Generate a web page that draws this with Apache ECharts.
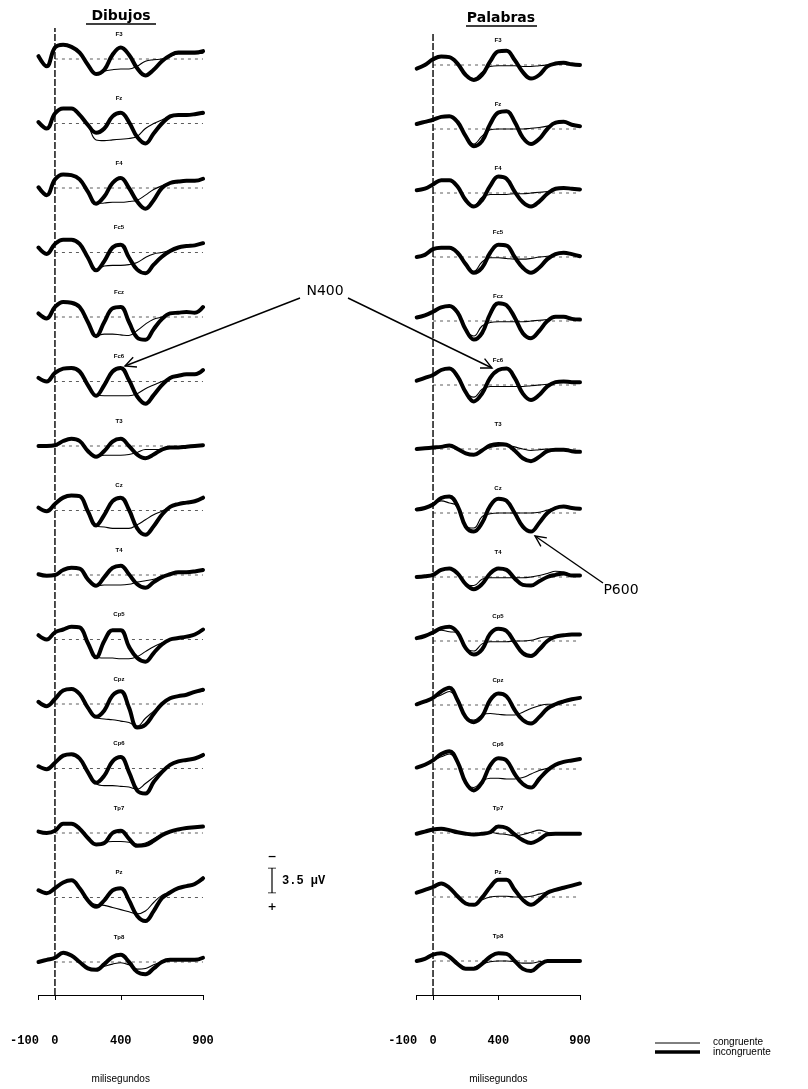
<!DOCTYPE html>
<html>
<head>
<meta charset="utf-8">
<script src="https://cdn.jsdelivr.net/npm/echarts@6/dist/echarts.min.js"></script>
<style>
  html, body { margin: 0; padding: 0; background: #fff; }
  #chart { width: 808px; height: 1089px; }
</style>
</head>
<body>
<div id="chart"></div>
<script>
// Sample times (ms) of every waveform
const times = [-100, -50, 0, 50, 100, 150, 200, 250, 300, 350, 400, 450, 500, 550, 600, 650, 700, 750, 800, 850, 900];

// Electrode of each row, top to bottom
const electrodes = ['F3', 'Fz', 'F4', 'Fc5', 'Fcz', 'Fc6', 'T3', 'Cz', 'T4', 'Cp5', 'Cpz', 'Cp6', 'Tp7', 'Pz', 'Tp8'];

// Amplitudes in µV (negative plotted upward), one row per electrode
const dibujosIncongruente = [
  [-0.4, 1.0, -1.6, -2.0, -1.7, -0.9, 0.8, 2.1, 1.5, -0.6, -1.6, -0.6, 1.3, 2.3, 1.5, 0.3, -0.5, -0.9, -0.9, -0.9, -1.1],
  [-0.2, 0.7, -1.4, -2.1, -2.1, -1.2, 0.2, 1.3, 0.7, -1.0, -1.5, -0.2, 1.9, 2.8, 1.4, 0.0, -1.0, -1.2, -1.2, -1.3, -1.5],
  [-0.1, 1.0, -1.2, -1.9, -1.8, -1.2, 0.5, 2.2, 1.2, -0.7, -1.4, 0.0, 1.9, 2.9, 1.7, 0.0, -0.7, -0.9, -1.0, -1.0, -1.3],
  [-0.7, 0.2, -1.2, -1.8, -1.8, -1.2, 0.7, 2.5, 1.2, -0.7, -1.1, 0.7, 2.4, 2.9, 1.7, 0.6, -0.2, -0.7, -0.9, -1.0, -1.3],
  [-0.5, 0.2, -1.4, -2.1, -2.0, -1.4, 0.7, 2.7, 0.7, -1.2, -1.4, 0.7, 2.9, 3.2, 1.7, 0.3, -0.5, -0.6, -0.7, -0.6, -1.4],
  [-0.5, 0.0, -1.2, -1.8, -1.9, -1.4, 0.5, 2.0, 0.5, -1.4, -1.9, -0.2, 2.1, 3.1, 1.9, 0.5, -0.5, -0.8, -1.0, -1.0, -1.6],
  [0.0, 0.0, -0.1, -0.7, -1.0, -0.7, 0.7, 1.5, 0.7, -0.6, -1.0, 0.0, 1.2, 1.7, 1.2, 0.5, 0.2, 0.2, 0.1, 0.0, -0.1],
  [-0.4, 0.1, -0.9, -1.8, -2.1, -2.0, 0.1, 2.1, 0.6, -1.3, -1.8, -0.1, 2.5, 3.4, 2.2, 0.6, -0.5, -0.9, -1.1, -1.3, -1.8],
  [-0.1, 0.1, 0.0, -0.7, -1.0, -0.9, 0.6, 1.5, 0.3, -1.0, -1.3, -0.1, 1.3, 1.8, 1.0, 0.3, -0.1, -0.4, -0.4, -0.5, -0.7],
  [-0.6, 0.0, -1.0, -1.4, -1.8, -1.7, 0.5, 2.5, 0.2, -1.3, -1.3, 1.0, 2.6, 3.1, 1.9, 0.7, 0.0, -0.2, -0.4, -0.7, -1.4],
  [-0.3, 0.3, -0.7, -1.9, -2.1, -1.4, 0.5, 1.8, 0.9, -1.2, -1.8, 0.5, 3.3, 2.9, 1.4, 0.0, -0.8, -1.1, -1.3, -1.7, -2.0],
  [-0.3, 0.1, -0.8, -1.8, -2.0, -1.4, 0.5, 2.0, 1.0, -1.0, -1.6, 0.5, 3.1, 3.5, 1.9, 0.5, -0.5, -1.0, -1.2, -1.4, -1.9],
  [-0.2, 0.0, -0.3, -1.3, -1.3, -0.6, 0.7, 1.6, 1.4, 0.0, -0.3, 0.8, 1.8, 1.7, 1.1, 0.3, -0.2, -0.5, -0.7, -0.8, -0.9],
  [-1.0, -0.6, -1.3, -2.1, -2.4, -1.3, 0.4, 1.3, 0.4, -1.0, -1.3, 0.4, 2.6, 3.3, 1.9, 0.1, -0.7, -1.3, -1.6, -1.9, -2.7],
  [0.0, -0.3, -0.6, -1.3, -0.9, 0.0, 0.9, 1.1, 0.3, -0.7, -1.0, 0.0, 1.4, 1.7, 0.9, 0.0, -0.3, -0.3, -0.3, -0.3, -0.6]
];

const dibujosCongruente = [
  [-0.4, 1.0, -1.6, -2.0, -1.7, -0.9, 0.8, 2.2, 1.7, 1.5, 1.4, 1.4, 1.0, 0.3, 0.1, 0.0, -0.4, -0.7, -0.7, -0.7, -0.8],
  [-0.2, 0.7, -1.4, -2.1, -2.1, -1.2, 0.2, 2.3, 2.4, 2.3, 2.2, 2.1, 1.8, 0.7, 0.0, -0.5, -1.0, -1.1, -1.1, -1.2, -1.3],
  [-0.1, 1.0, -1.2, -1.9, -1.8, -1.2, 0.5, 2.2, 2.1, 2.0, 2.0, 1.9, 1.7, 1.0, 0.2, -0.3, -0.7, -0.9, -1.0, -1.0, -1.2],
  [-0.7, 0.2, -1.2, -1.8, -1.8, -1.2, 0.7, 2.4, 1.9, 1.8, 1.8, 1.7, 1.4, 0.7, 0.2, 0.0, -0.3, -0.7, -0.9, -1.0, -1.2],
  [-0.5, 0.2, -1.4, -2.1, -2.0, -1.4, 0.7, 2.6, 2.4, 2.4, 2.5, 2.6, 1.9, 1.0, 0.3, 0.0, -0.5, -0.6, -0.7, -0.7, -1.2],
  [-0.5, 0.0, -1.2, -1.8, -1.9, -1.4, 0.5, 1.9, 2.0, 2.0, 2.0, 2.0, 1.7, 1.0, 0.5, 0.0, -0.5, -0.8, -1.0, -1.0, -1.4],
  [0.0, 0.0, -0.1, -0.7, -1.0, -0.7, 0.7, 1.4, 1.3, 1.3, 1.3, 1.2, 0.9, 0.5, 0.5, 0.5, 0.2, 0.2, 0.1, 0.0, -0.1],
  [-0.4, 0.1, -0.9, -1.8, -2.1, -2.0, 0.1, 2.2, 2.3, 2.5, 2.5, 2.5, 2.0, 1.3, 0.6, 0.1, -0.5, -0.9, -1.1, -1.3, -1.6],
  [-0.1, 0.1, 0.0, -0.7, -1.0, -0.9, 0.6, 1.5, 1.4, 1.4, 1.4, 1.3, 1.0, 0.8, 0.6, 0.2, -0.1, -0.4, -0.4, -0.5, -0.6],
  [-0.6, 0.0, -1.0, -1.4, -1.8, -1.7, 0.5, 2.5, 2.6, 2.6, 2.7, 2.7, 2.4, 1.7, 1.0, 0.5, 0.0, -0.2, -0.4, -0.7, -1.3],
  [-0.3, 0.3, -0.7, -1.9, -2.1, -1.4, 0.5, 1.9, 2.1, 2.2, 2.4, 2.6, 3.1, 2.0, 1.0, 0.0, -0.7, -1.1, -1.3, -1.6, -1.8],
  [-0.3, 0.1, -0.8, -1.8, -2.0, -1.4, 0.5, 2.1, 2.4, 2.4, 2.5, 2.6, 2.9, 2.1, 1.2, 0.3, -0.5, -1.0, -1.2, -1.4, -1.7],
  [-0.2, 0.0, -0.3, -1.3, -1.3, -0.6, 0.7, 1.6, 1.3, 1.2, 1.2, 1.3, 1.6, 1.4, 0.8, 0.2, -0.2, -0.5, -0.7, -0.8, -0.9],
  [-1.0, -0.6, -1.3, -2.1, -2.4, -1.3, 0.4, 1.0, 1.1, 1.4, 1.7, 2.0, 2.3, 1.9, 0.7, -0.3, -0.7, -1.3, -1.6, -1.9, -2.4],
  [0.0, -0.3, -0.6, -1.3, -0.9, 0.0, 0.9, 0.9, 0.6, 0.3, 0.1, 0.4, 1.0, 0.9, 0.4, 0.0, -0.3, -0.3, -0.3, -0.3, -0.5]
];

const palabrasIncongruente = [
  [0.5, 0.0, -0.8, -1.2, -1.1, -0.2, 1.4, 2.1, 1.4, -0.5, -1.9, -2.0, -0.7, 1.0, 1.9, 1.4, 0.2, -0.2, -0.3, -0.1, 0.0],
  [-0.7, -1.0, -1.3, -1.7, -1.8, -1.0, 1.0, 2.4, 1.7, -0.7, -2.3, -2.5, -1.0, 1.2, 2.1, 1.4, 0.0, -0.9, -1.0, -0.6, -0.4],
  [-0.4, -0.6, -1.2, -1.8, -1.8, -0.9, 1.0, 1.9, 1.0, -1.0, -2.3, -2.0, -0.2, 1.3, 1.9, 1.2, 0.1, -0.6, -0.7, -0.6, -0.5],
  [0.0, -0.3, -1.1, -1.3, -1.3, -0.6, 1.0, 2.2, 1.5, -0.6, -1.7, -1.6, 0.0, 1.5, 2.2, 1.5, 0.3, -0.4, -0.6, -0.4, -0.1],
  [-0.5, -0.8, -1.3, -1.9, -2.1, -1.2, 1.2, 2.6, 1.7, -1.0, -2.5, -2.2, -0.5, 1.7, 2.4, 1.4, 0.0, -0.6, -0.6, -0.3, -0.2],
  [-0.6, -1.0, -1.4, -2.1, -2.3, -1.2, 1.0, 2.3, 1.2, -1.0, -2.1, -2.3, -1.0, 1.2, 2.1, 1.4, 0.2, -0.4, -0.5, -0.4, -0.4],
  [0.0, -0.1, -0.2, -0.3, -0.5, 0.0, 0.6, 0.8, 0.2, -0.5, -0.7, -0.6, 0.2, 1.3, 1.7, 1.1, 0.3, 0.1, 0.1, 0.3, 0.4],
  [-0.5, -0.7, -1.2, -2.1, -2.3, -1.0, 1.9, 2.6, 1.4, -1.0, -2.0, -1.7, 0.0, 1.9, 2.6, 1.4, 0.0, -0.7, -0.9, -0.7, -0.6],
  [0.0, -0.1, -0.3, -1.0, -1.2, -0.5, 1.0, 1.7, 1.0, -0.5, -1.2, -1.0, 0.2, 1.1, 1.2, 0.6, 0.0, -0.3, -0.5, -0.2, -0.2],
  [-0.4, -0.7, -1.2, -1.8, -2.0, -1.2, 1.0, 1.9, 1.2, -1.0, -1.7, -1.4, 0.2, 1.7, 2.1, 1.2, 0.0, -0.6, -0.8, -0.9, -0.9],
  [-0.1, -0.5, -1.0, -1.9, -2.4, -0.7, 1.7, 2.4, 1.6, -0.7, -1.6, -1.2, 0.7, 2.1, 2.6, 1.7, 0.5, -0.1, -0.5, -0.8, -1.0],
  [-0.2, -0.6, -1.2, -2.1, -2.5, -1.0, 1.9, 3.0, 1.9, -0.5, -1.5, -1.2, 0.7, 2.1, 2.6, 1.4, 0.2, -0.6, -1.0, -1.2, -1.4],
  [0.1, -0.2, -0.5, -0.6, -0.4, -0.1, 0.1, 0.2, 0.1, -0.1, -0.9, -0.7, 0.2, 1.0, 1.4, 0.9, 0.2, 0.1, 0.1, 0.1, 0.1],
  [-0.6, -1.0, -1.4, -1.9, -1.3, -0.1, 0.9, 1.1, 0.1, -1.4, -2.4, -2.4, -1.0, 0.4, 1.1, 0.4, -0.6, -1.0, -1.3, -1.6, -1.9],
  [0.0, -0.3, -0.9, -1.1, -0.6, 0.4, 1.1, 1.1, 0.4, -0.6, -1.1, -1.0, 0.0, 1.1, 1.4, 0.6, 0.0, 0.0, 0.0, 0.0, 0.0]
];

const palabrasCongruente = [
  [0.5, 0.0, -0.8, -1.2, -1.1, -0.2, 1.4, 1.9, 1.0, 0.2, 0.1, 0.1, 0.1, 0.2, 0.2, 0.1, 0.0, -0.1, -0.3, -0.1, 0.0],
  [-0.7, -1.0, -1.3, -1.7, -1.8, -1.0, 1.0, 2.1, 1.0, 0.1, 0.0, 0.0, 0.0, 0.0, -0.1, -0.2, -0.4, -0.7, -1.0, -0.6, -0.4],
  [-0.4, -0.6, -1.2, -1.8, -1.8, -0.9, 1.0, 1.8, 0.6, 0.2, 0.2, 0.2, 0.1, 0.1, 0.0, -0.1, -0.2, -0.5, -0.7, -0.6, -0.5],
  [0.0, -0.3, -1.1, -1.3, -1.3, -0.6, 1.0, 2.0, 0.7, 0.1, 0.1, 0.2, 0.3, 0.3, 0.2, 0.0, -0.1, -0.4, -0.6, -0.4, -0.1],
  [-0.5, -0.8, -1.3, -1.9, -2.1, -1.2, 1.2, 2.1, 0.7, 0.2, 0.1, 0.1, 0.1, 0.1, 0.0, -0.1, -0.2, -0.5, -0.6, -0.3, -0.2],
  [-0.6, -1.0, -1.4, -2.1, -2.3, -1.2, 1.0, 1.7, 0.6, 0.2, 0.2, 0.2, 0.2, 0.2, 0.1, 0.0, -0.1, -0.4, -0.5, -0.4, -0.4],
  [0.0, -0.1, -0.2, -0.3, -0.5, 0.0, 0.6, 0.7, 0.2, -0.2, -0.4, -0.5, -0.3, 0.0, 0.2, 0.1, 0.0, 0.1, 0.1, 0.3, 0.4],
  [-0.5, -0.7, -1.2, -1.7, -1.4, -1.0, 1.9, 2.1, 0.5, 0.1, 0.0, 0.0, 0.0, 0.0, 0.0, -0.1, -0.4, -0.7, -0.9, -0.7, -0.6],
  [0.0, -0.1, -0.3, -1.0, -1.2, -0.5, 1.0, 1.2, 0.3, 0.1, 0.1, 0.1, 0.1, 0.1, 0.0, -0.2, -0.5, -0.8, -0.7, -0.3, -0.2],
  [-0.4, -0.7, -1.2, -1.5, -1.3, -1.2, 1.0, 1.4, 0.4, 0.1, 0.1, 0.1, 0.0, 0.0, -0.1, -0.4, -0.6, -0.6, -0.8, -0.9, -0.9],
  [-0.1, -0.5, -1.0, -1.4, -1.9, -0.7, 1.7, 2.1, 1.4, 1.2, 1.3, 1.4, 1.4, 1.0, 0.5, 0.1, -0.1, -0.1, -0.5, -0.8, -1.0],
  [-0.2, -0.6, -1.2, -1.7, -2.1, -1.0, 1.9, 2.6, 1.7, 1.3, 1.3, 1.4, 1.4, 1.2, 0.7, 0.2, -0.1, -0.6, -1.0, -1.2, -1.4],
  [0.1, -0.2, -0.5, -0.6, -0.4, -0.1, 0.1, 0.2, 0.1, -0.1, 0.1, 0.2, 0.4, 0.2, -0.1, -0.4, -0.1, 0.1, 0.1, 0.1, 0.1],
  [-0.6, -1.0, -1.4, -1.9, -1.3, -0.1, 0.9, 1.0, 0.4, 0.0, -0.1, -0.1, 0.0, 0.0, -0.1, -0.4, -0.7, -1.0, -1.3, -1.6, -1.9],
  [0.0, -0.3, -0.9, -1.1, -0.6, 0.4, 1.1, 0.9, 0.4, 0.1, 0.0, 0.0, 0.1, 0.3, 0.3, 0.1, 0.0, 0.0, 0.0, 0.0, 0.0]
];

// Time axis tick values and the calibration bar
const timeTicks = [-100, 0, 400, 900];
const calibrationMicrovolts = 3.5;

// ---- layout ----
const PX_PER_UV = 7.14;           // vertical scale shared by panels and calibration bar
const RANGE_UV = 4;               // each panel spans -4..+4 µV
const PANEL_H = 2 * RANGE_UV * PX_PER_UV;

const columns = [
  { title: 'Dibujos', left: 38.5, width: 164.5, rowTop: 59, rowStep: 64.5, labelX: 119,
    con: dibujosCongruente, inc: dibujosIncongruente, axisY: 995, lineTop: 28, titleX: 121, titleY: 16,
    underline: [86, 156, 24] },
  { title: 'Palabras', left: 416.7, width: 163.3, rowTop: 65, rowStep: 64, labelX: 498,
    con: palabrasCongruente, inc: palabrasIncongruente, axisY: 997, lineTop: 33, titleX: 501, titleY: 18,
    underline: [466, 537, 26] }
];

const grids = [], xAxes = [], yAxes = [], series = [], graphics = [];
const INK = '#000';

function addGrid(g, x, y) {
  grids.push(g);
  const idx = grids.length - 1;
  xAxes.push(Object.assign({ gridIndex: idx }, x));
  yAxes.push(Object.assign({ gridIndex: idx }, y));
  return idx;
}

columns.forEach(col => {
  electrodes.forEach((el, r) => {
    const base = col.rowTop + col.rowStep * r;
    const gi = addGrid(
      { left: col.left, width: col.width, top: base - PANEL_H / 2, height: PANEL_H },
      { type: 'value', min: -100, max: 900, show: false },
      { type: 'value', min: -RANGE_UV, max: RANGE_UV, inverse: true, show: false }
    );
    // dashed zero line of the panel
    series.push({
      type: 'line', xAxisIndex: gi, yAxisIndex: gi, silent: true, symbol: 'none',
      data: [[0, 0], [900, 0]],
      lineStyle: { color: '#333', width: 0.8, type: [3, 4] }
    });
    series.push({
      name: 'incongruente', type: 'line', xAxisIndex: gi, yAxisIndex: gi, symbol: 'none',
      smooth: 0.4, data: times.map((t, i) => [t, col.inc[r][i]]),
      lineStyle: { color: INK, width: 4, cap: 'round', join: 'round' }
    });
    series.push({
      name: 'congruente', type: 'line', xAxisIndex: gi, yAxisIndex: gi, symbol: 'none',
      smooth: 0.4, data: times.map((t, i) => [t, col.con[r][i]]),
      lineStyle: { color: INK, width: 1.1, cap: 'round', join: 'round' }
    });
    graphics.push({
      type: 'text', x: col.labelX, y: base - 25,
      style: { text: el, fill: INK, font: 'bold 6px "Liberation Sans"', align: 'center', verticalAlign: 'middle' }
    });
  });

  // full-height column frame: stimulus-onset line and time axis
  const ci = addGrid(
    { left: col.left, width: col.width, top: col.lineTop, height: col.axisY - col.lineTop },
    {
      type: 'value', min: -100, max: 900,
      name: 'milisegundos', nameLocation: 'middle', nameGap: 79,
      nameTextStyle: { color: INK, fontFamily: 'Liberation Sans', fontSize: 10 },
      axisLine: { show: true, onZero: false, lineStyle: { color: INK, width: 1 } },
      axisTick: { show: true, customValues: timeTicks, length: 5, lineStyle: { color: INK, width: 1 } },
      axisLabel: {
        customValues: timeTicks, margin: 40, color: INK,
        fontFamily: 'Liberation Mono', fontWeight: 'bold', fontSize: 12,
        formatter: v => (v === -100 ? '{neg|-100}' : String(v)),
        rich: { neg: { fontFamily: 'Liberation Mono', fontWeight: 'bold', fontSize: 12, color: INK, padding: [0, 28, 0, 0] } }
      },
      splitLine: { show: false }
    },
    { type: 'value', min: 0, max: 1, show: false }
  );
  series.push({
    type: 'line', xAxisIndex: ci, yAxisIndex: ci, silent: true, symbol: 'none',
    data: [[0, 0], [0, 1]],
    lineStyle: { color: INK, width: 1.4, type: [7, 2] }
  });

  // column title, underlined
  graphics.push(
    { type: 'text', x: col.titleX, y: col.titleY,
      style: { text: col.title, fill: INK, font: 'bold 14px "DejaVu Sans"', align: 'center', verticalAlign: 'middle' } },
    { type: 'line', shape: { x1: col.underline[0], y1: col.underline[2], x2: col.underline[1], y2: col.underline[2] },
      style: { stroke: INK, lineWidth: 1.3 } }
  );
});

// calibration bar drawn on the same µV scale as the panels
const calTop = 868;
const calIdx = addGrid(
  { left: 264, width: 16, top: calTop, height: calibrationMicrovolts * PX_PER_UV },
  { type: 'value', min: -1, max: 1, show: false },
  { type: 'value', min: 0, max: calibrationMicrovolts, inverse: true, show: false }
);
[[[0, 0], [0, calibrationMicrovolts]],
 [[-0.5, 0], [0.5, 0]],
 [[-0.5, calibrationMicrovolts], [0.5, calibrationMicrovolts]]].forEach(seg => {
  series.push({
    type: 'line', xAxisIndex: calIdx, yAxisIndex: calIdx, silent: true, symbol: 'none',
    data: seg, lineStyle: { color: INK, width: 1.2 }
  });
});

// calibration texts
graphics.push(
  { type: 'text', x: 272, y: 857, style: { text: '\u2212', fill: INK, font: 'bold 11px "DejaVu Sans"', align: 'center', verticalAlign: 'middle' } },
  { type: 'text', x: 272, y: 907, style: { text: '+', fill: INK, font: 'bold 11px "DejaVu Sans"', align: 'center', verticalAlign: 'middle' } },
  { type: 'text', x: 282, y: 881, style: { text: '3.5 \u00b5V', fill: INK, font: 'bold 12px "Liberation Mono"', align: 'left', verticalAlign: 'middle' } }
);

// component annotations
function arrow(x1, y1, x2, y2) {
  const a = Math.atan2(y2 - y1, x2 - x1), L = 12, s = 0.45;
  const p1 = [x2 - L * Math.cos(a - s), y2 - L * Math.sin(a - s)];
  const p2 = [x2 - L * Math.cos(a + s), y2 - L * Math.sin(a + s)];
  return [
    { type: 'line', shape: { x1, y1, x2, y2 }, style: { stroke: INK, lineWidth: 1.4 } },
    { type: 'polyline', shape: { points: [p1, [x2, y2], p2] }, style: { stroke: INK, lineWidth: 1.4, fill: null } }
  ];
}
graphics.push(
  { type: 'text', x: 325, y: 291, style: { text: 'N400', fill: INK, font: '14px "DejaVu Sans"', align: 'center', verticalAlign: 'middle' } },
  { type: 'text', x: 621, y: 590, style: { text: 'P600', fill: INK, font: '14px "DejaVu Sans"', align: 'center', verticalAlign: 'middle' } },
  ...arrow(300, 298, 125, 366),
  ...arrow(348, 298, 492, 368),
  ...arrow(603, 583, 535, 536)
);

// key for the two line weights
graphics.push(
  { type: 'line', shape: { x1: 655, y1: 1043, x2: 700, y2: 1043 }, style: { stroke: INK, lineWidth: 1 } },
  { type: 'line', shape: { x1: 655, y1: 1052, x2: 700, y2: 1052 }, style: { stroke: INK, lineWidth: 3.5 } },
  { type: 'text', x: 713, y: 1042, style: { text: 'congruente', fill: INK, font: '10px "Liberation Sans"', align: 'left', verticalAlign: 'middle' } },
  { type: 'text', x: 713, y: 1052, style: { text: 'incongruente', fill: INK, font: '10px "Liberation Sans"', align: 'left', verticalAlign: 'middle' } }
);

const chart = echarts.init(document.getElementById('chart'), null, { renderer: 'canvas' });
chart.setOption({
  backgroundColor: '#fff',
  animation: false,
  grid: grids,
  xAxis: xAxes,
  yAxis: yAxes,
  series: series,
  graphic: graphics
});
</script>
</body>
</html>
